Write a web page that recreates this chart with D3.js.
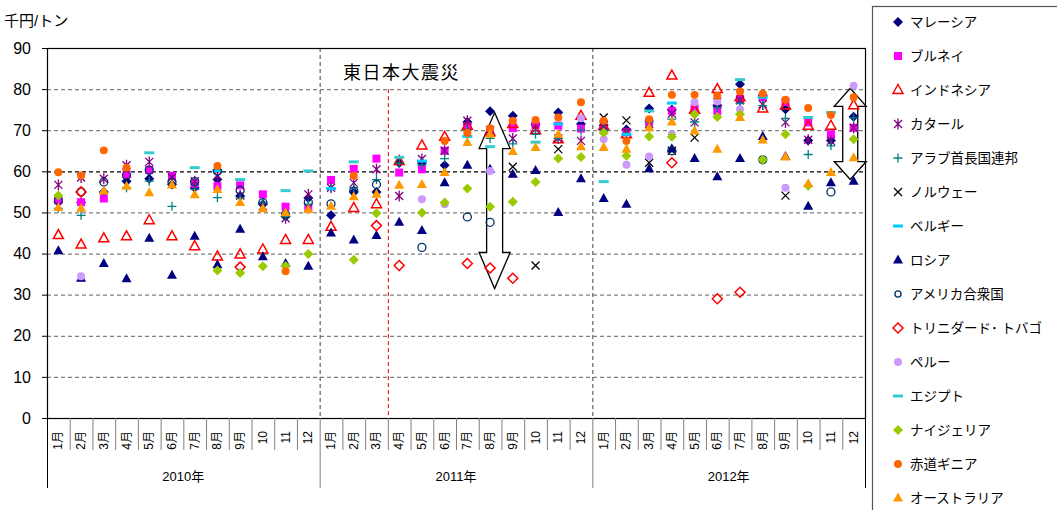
<!DOCTYPE html>
<html>
<head>
<meta charset="utf-8">
<script src="https://cdn.jsdelivr.net/npm/d3@7"></script>
<style>
  body { margin: 0; background: #fff; }
  text { font-family: "Liberation Sans", "Noto Sans CJK JP", sans-serif; }
</style>
</head>
<body>
<div id="chart"></div>
<script>
var width = 1057; // 全体の幅
var height = 510; // 全体の高さ

var monthLabels = ["1月", "2月", "3月", "4月", "5月", "6月", "7月", "8月", "9月", "10", "11", "12"];
var yearLabels = ["2010年", "2011年", "2012年"];
var yTicks = [0, 10, 20, 30, 40, 50, 60, 70, 80, 90];

// 各国の月別価格 (千円/トン), 2010年1月〜2012年12月
var _ = null;
var malaysia = [52.5, 52.4, 55, 57.6, 58.2, 56.8, 56, 58, 54, 52, 49, 53.5, 49.3, 55, 55, 62, 62, 61.5, 72, 74.6, 73.5, 71.5, 74.3, 71.5, 71.2, 70.2, 75.3, 75, 74, 76, 81.2, 78.5, 75.1, 67.5, 67.5, 73.3];
var brunei = [52.9, 52.5, 53.4, 59.3, 60.3, 58.9, 57, 56.4, 56.6, 54.4, 51.4, 51, 57.9, 60.6, 63.1, 59.7, 60.5, 65, 71, 70, 70.5, 71.3, 71.1, 70.4, 70, 69.5, 72, 74.7, 75.3, 74.7, 77.6, 78, 76.9, 71.9, 69, 70.6];
var indonesia = [44.5, 42.2, 43.7, 44.2, 48.1, 44.2, 41.8, 39.3, 39.8, 41, 43.3, 43.3, 46.5, 51.1, 52, 62.5, 66.3, 68.4, 71.1, 69.5, 71.5, 70, 67.8, 73.5, 71, 69, 79.1, 83.3, 75, 80, 78, 75.3, 76, 71.1, 71.1, 76.1];
var qatar = [56.7, 58.5, 58.2, 61.5, 62.3, 58.5, 57.6, 58.9, 54.1, 51.5, 48.6, 54.4, 56, 57.2, 60.5, 54, 63, 65, 72.3, 70, 68, 70.2, 68, 67.4, 71, 69.5, 71.5, 74, 71.9, 76.8, 77.3, 76.3, 71.9, 67.7, 67.4, 70.6];
var uae = [51, 49.3, 55, 56, 57.6, 51.5, 55.6, 53.6, 53.5, 52.4, 49, 52, 56, 56, 58, 62, 61.5, 63.1, 70, 68, 66.7, 69, 68, 70, 70, 69, 72, 72.7, 72, 75.5, 76.5, 76, 72.9, 64.1, 66.2, 73];
var norway = [_, _, _, _, _, _, _, _, _, _, _, _, _, _, _, _, _, _, _, _, 61.1, 37.1, 65.4, _, 73.1, 72.4, 62.1, 65, 68.2, _, _, _, 54.1, _, _, _];
var belgium = [_, _, _, _, _, _, _, 60.2, _, _, _, _, 55.8, _, _, _, 62.5, _, 68.5, _, _, _, 71.5, _, _, 69, _, 76.6, _, _, _, 78, _, _, _, _];
var russia = [40.7, 34, 37.6, 33.9, 43.7, 34.7, 44.2, 37.3, 45.9, 39.2, 37.6, 36.9, 45, 43.3, 44.4, 47.6, 45.6, 57.2, 61.5, 60.5, 59.3, 60.2, 50, 58.2, 53.4, 52, 60.6, 65.5, 63.1, 58.7, 63.1, 68.5, 63.6, 51.5, 57.2, 57.6];
var usa = [53, 55, 57.4, 59, 60.3, 57.4, 57.5, 60, 55.4, 52.4, 49.5, 52.5, 52.1, 55.2, 56.8, _, 41.5, _, 48.9, 47.6, _, _, _, _, _, _, _, 65, _, _, _, 62.8, _, _, 55, _];
var trinidad = [_, 55, _, _, _, _, _, _, 36.7, _, _, _, _, _, 46.8, 37.1, _, _, 37.6, 36.5, 34, _, _, _, _, _, _, 62.1, _, 29, 30.6, _, _, _, _, _];
var peru = [_, 34.5, _, _, _, _, _, _, _, _, _, _, _, _, _, _, 53.2, 52, _, 60.1, _, _, _, 72.9, 67.8, 61.6, 63.6, 69, 76.8, 77, 75.1, _, 56, _, _, 80.8];
var egypt = [_, _, _, _, 64.5, _, 60.9, _, 58, _, 55.3, 60.1, _, 62.3, _, 63.4, _, _, _, 66, _, 67.1, _, _, 57.5, _, 74.7, _, _, _, 82.3, _, _, 73.1, 74.3, _];
var nigeria = [54.1, _, _, _, _, _, _, 35.9, 35.3, 36.9, 37, 39.9, _, 38.5, 49.8, _, 49.9, 52.4, 55.8, 51.4, 52.6, 57.4, 63.1, 63.5, 69.4, 63.8, 68.5, 68.4, 73.9, 73.2, 73.9, 62.8, 69, 56.5, _, 67.8];
var eqGuinea = [59.8, 59, 65.1, 60.9, _, _, _, 61.3, _, _, 35.7, _, _, 58.9, _, _, _, 67.4, 69.3, 70.5, 72.3, 72.5, 73.1, 76.8, 72.3, 67.4, 72.7, 78.6, 78.6, 78.4, 79.4, 78.9, 77.4, 75.4, 73.7, 78];
var australia = [51.2, 51, 55.2, 56.4, 54.8, 56.7, 54.3, 55.6, 52.4, 50.9, 49.9, 50.7, 51.5, 53.8, 54.4, 56.6, 56.8, 59.7, 67, 69, 64.8, 65.8, 69, 66, 65.8, 65.4, 70.6, 72, 69.8, 65.4, 73.1, 67.6, 63.5, 57, 59.7, 63.3];

// 矢印 (月位置, 上端, 下端)
var arrows = [
    { m: 19.2, top: 74.3, bottom: 31.5, head: 36, hw: 15.5, sw: 8 },
    { m: 34.85, top: 80.2, bottom: 58, head: 18, hw: 16, sw: 7.5 }
];

// マーカー形状
var shapes = {
    diamond: "M0,-5L5,0L0,5L-5,0Z",
    square: "M-4,-4h8v8h-8Z",
    triangle: "M0,-5.5L5,3.5L-5,3.5Z",
    circle: d3.symbol(d3.symbolCircle, 50)(),
    smallCircle: d3.symbol(d3.symbolCircle, 30)(),
    plus: "M-4.5,0H4.5M0,-4.5V4.5",
    cross: "M-4,-4L4,4M-4,4L4,-4",
    star: "M-4,-4L4,4M-4,4L4,-4M0,-5.5V5.5",
    dash: "M-5,0H5"
};

var series = [
    { name: "マレーシア", values: malaysia, shape: "diamond", fill: "#000080", stroke: "none" },
    { name: "ブルネイ", values: brunei, shape: "square", fill: "#FF00FF", stroke: "none" },
    { name: "インドネシア", values: indonesia, shape: "triangle", fill: "none", stroke: "#FF0000", sw: 1.5 },
    { name: "カタール", values: qatar, shape: "star", fill: "none", stroke: "#800080", sw: 1.3 },
    { name: "アラブ首長国連邦", values: uae, shape: "plus", fill: "none", stroke: "#008080", sw: 1.3 },
    { name: "ノルウェー", values: norway, shape: "cross", fill: "none", stroke: "#000000", sw: 1.3 },
    { name: "ベルギー", values: belgium, shape: "dash", fill: "none", stroke: "#00CCFF", sw: 3 },
    { name: "ロシア", values: russia, shape: "triangle", fill: "#000080", stroke: "none" },
    { name: "アメリカ合衆国", values: usa, shape: "circle", fill: "none", stroke: "#003366", sw: 1.3 },
    { name: "トリニダード･ トバゴ", values: trinidad, shape: "diamond", fill: "none", stroke: "#FF0000", sw: 1.5 },
    { name: "ペルー", values: peru, shape: "circle", fill: "#CC99FF", stroke: "none" },
    { name: "エジプト", values: egypt, shape: "dash", fill: "none", stroke: "#33CCCC", sw: 3 },
    { name: "ナイジェリア", values: nigeria, shape: "diamond", fill: "#99CC00", stroke: "none" },
    { name: "赤道ギニア", values: eqGuinea, shape: "circle", fill: "#FF6600", stroke: "none" },
    { name: "オーストラリア", values: australia, shape: "triangle", fill: "#FF9900", stroke: "none" }
];

var plot = { left: 47, right: 865, top: 48, bottom: 418 };
var nMonths = yearLabels.length * monthLabels.length;

var x = d3.scaleBand()
    .domain(d3.range(nMonths))
    .range([plot.left, plot.right]);

var y = d3.scaleLinear()
    .domain([0, 90])
    .range([plot.bottom, plot.top]);

var svg = d3.select("#chart")
    .append("svg")
    .attr("width", width)
    .attr("height", height);

// 横グリッド線
svg.selectAll(".grid")
    .data(yTicks.filter((d) => d > 0 && d < 90))
    .enter()
    .append("line")
    .attr("class", "grid")
    .attr("x1", plot.left)
    .attr("x2", plot.right)
    .attr("y1", (d) => y(d) + 0.5)
    .attr("y2", (d) => y(d) + 0.5)
    .attr("stroke", (d) => d === 60 ? "#000" : "#808080")
    .attr("stroke-width", 1.2)
    .attr("stroke-dasharray", "4,3");

// 年の区切り (点線)
svg.selectAll(".ysep")
    .data([1, 2])
    .enter()
    .append("line")
    .attr("class", "ysep")
    .attr("x1", (d) => x(d * 12) + 0.5)
    .attr("x2", (d) => x(d * 12) + 0.5)
    .attr("y1", plot.top)
    .attr("y2", plot.bottom)
    .attr("stroke", "#606060")
    .attr("stroke-width", 1.2)
    .attr("stroke-dasharray", "4,3");

// 震災 (2011年3月と4月の間)
svg.append("line")
    .attr("x1", x(15) + 0.5)
    .attr("x2", x(15) + 0.5)
    .attr("y1", y(80))
    .attr("y2", plot.bottom)
    .attr("stroke", "#E00000")
    .attr("stroke-width", 1)
    .attr("stroke-dasharray", "4,3");

// 枠
svg.append("rect")
    .attr("x", plot.left + 0.5)
    .attr("y", plot.top + 0.5)
    .attr("width", plot.right - plot.left)
    .attr("height", plot.bottom - plot.top)
    .attr("fill", "none")
    .attr("stroke", "#000")
    .attr("stroke-width", 1.2);

// Y軸
var yAxis = svg.append("g")
    .attr("transform", "translate(" + plot.left + ",0)")
    .call(d3.axisLeft(y).tickValues(yTicks).tickSize(5).tickPadding(11));
yAxis.select(".domain").remove();
yAxis.selectAll("text")
    .attr("font-size", 16)
    .attr("fill", "#000")
    .style("font-family", "'Liberation Sans', sans-serif");

svg.append("text")
    .attr("x", 4)
    .attr("y", 26)
    .attr("font-size", 15)
    .text("千円/トン");

// X軸の区切り線
svg.selectAll(".msep")
    .data(d3.range(1, nMonths))
    .enter()
    .append("line")
    .attr("class", "msep")
    .attr("x1", (d) => x(d) + 0.5)
    .attr("x2", (d) => x(d) + 0.5)
    .attr("y1", plot.bottom)
    .attr("y2", (d) => d % 12 === 0 ? 488 : 450)
    .attr("stroke", "#808080")
    .attr("stroke-width", 1);

svg.selectAll(".yedge")
    .data([0, nMonths])
    .enter()
    .append("line")
    .attr("x1", (d) => (d === 0 ? plot.left : plot.right) + 0.5)
    .attr("x2", (d) => (d === 0 ? plot.left : plot.right) + 0.5)
    .attr("y1", plot.bottom)
    .attr("y2", 488)
    .attr("stroke", "#000")
    .attr("stroke-width", 1);

svg.selectAll(".mlabel")
    .data(d3.range(nMonths))
    .enter()
    .append("text")
    .attr("class", "mlabel")
    .attr("transform", (d) => "translate(" + (x(d) + x.bandwidth() / 2 + 4) + ",431) rotate(-90)")
    .attr("text-anchor", "end")
    .attr("font-size", 12)
    .text((d) => monthLabels[d % 12]);

svg.selectAll(".ylabel")
    .data(yearLabels)
    .enter()
    .append("text")
    .attr("class", "ylabel")
    .attr("x", (d, i) => (x(i * 12) + x(i * 12 + 11) + x.bandwidth()) / 2)
    .attr("y", 481)
    .attr("text-anchor", "middle")
    .attr("font-size", 13)
    .text((d) => d);

// タイトル
svg.append("text")
    .attr("x", 343)
    .attr("y", 79)
    .attr("font-size", 18)
    .attr("letter-spacing", 1.5)
    .text("東日本大震災");

// 矢印 (点の下に描く)
arrows.forEach(function (a) {
    var cx = x(0) + x.bandwidth() * (a.m + 0.5);
    var t = y(a.top), b = y(a.bottom);
    var p = d3.path();
    p.moveTo(cx, t);
    p.lineTo(cx + a.hw, t + a.head);
    p.lineTo(cx + a.sw, t + a.head);
    p.lineTo(cx + a.sw, b - a.head);
    p.lineTo(cx + a.hw, b - a.head);
    p.lineTo(cx, b);
    p.lineTo(cx - a.hw, b - a.head);
    p.lineTo(cx - a.sw, b - a.head);
    p.lineTo(cx - a.sw, t + a.head);
    p.lineTo(cx - a.hw, t + a.head);
    p.closePath();
    svg.append("path")
        .attr("d", p.toString())
        .attr("fill", "#fff")
        .attr("stroke", "#000")
        .attr("stroke-width", 1.3);
});

// データ点
series.forEach(function (s, k) {
    var pts = s.values
        .map((v, i) => ({ i: i, v: v }))
        .filter((d) => d.v !== null);
    svg.selectAll(".s" + k)
        .data(pts)
        .enter()
        .append("path")
        .attr("class", "s" + k)
        .attr("d", shapes[s.shape])
        .attr("transform", (d) => "translate(" + (x(d.i) + x.bandwidth() / 2) + "," + y(d.v) + ")")
        .attr("fill", s.fill)
        .attr("stroke", s.stroke)
        .attr("stroke-width", s.sw || 1);
});

// 凡例
svg.append("rect")
    .attr("x", 872.5)
    .attr("y", 6.5)
    .attr("width", 200)
    .attr("height", 520)
    .attr("fill", "#fff")
    .attr("stroke", "#555")
    .attr("stroke-width", 1.2);

var legend = svg.selectAll(".legend")
    .data(series)
    .enter()
    .append("g")
    .attr("class", "legend")
    .attr("transform", (d, i) => "translate(898," + (22 + i * 34) + ")");

legend.append("path")
    .attr("d", (d) => shapes[d.shape === "circle" && d.fill === "none" ? "smallCircle" : d.shape])
    .attr("fill", (d) => d.fill)
    .attr("stroke", (d) => d.stroke)
    .attr("stroke-width", (d) => d.sw || 1);

legend.append("text")
    .attr("x", 12)
    .attr("y", 5)
    .attr("font-size", 13.5)
    .text((d) => d.name);
</script>
</body>
</html>
